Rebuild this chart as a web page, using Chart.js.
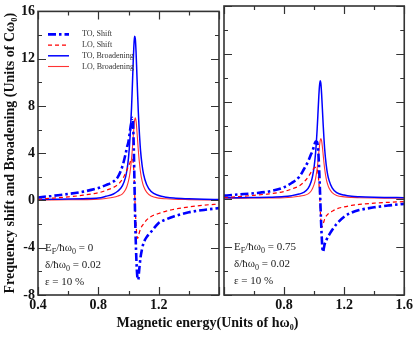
<!DOCTYPE html>
<html>
<head>
  <title>Frequency shift and broadening</title>
  <script src="https://cdn.jsdelivr.net/npm/chart.js"></script>
  <style>
    body { margin: 0; background: #fff; width: 415px; height: 337px; overflow: hidden; position: relative; font-family: "Liberation Serif", serif; color: #111; }
    .panel { position: absolute; top: 0; height: 337px; }
    #left-wrap { left: 0; width: 222px; }
    #right-wrap { left: 220px; width: 195px; }
    .note { position: absolute; font-size: 11px; line-height: 17px; color: #222; white-space: nowrap; }
    .note sub, #xtitle sub { font-size: 8px; vertical-align: -3px; line-height: 0; }
    #xtitle { position: absolute; top: 315px; left: 0; width: 415px; text-align: center; font-weight: bold; font-size: 14px; }
  </style>
</head>
<body>
  <div class="panel" id="left-wrap"><canvas id="leftChart"></canvas></div>
  <div class="panel" id="right-wrap"><canvas id="rightChart"></canvas></div>

  <div class="note" style="left:45px; top:239px;">
    E<sub>F</sub>/ħω<sub>0</sub> = 0<br>δ/ħω<sub>0</sub> = 0.02<br>ε = 10 %
  </div>
  <div class="note" style="left:234px; top:238px;">
    E<sub>F</sub>/ħω<sub>0</sub> = 0.75<br>δ/ħω<sub>0</sub> = 0.02<br>ε = 10 %
  </div>
  <div id="xtitle">Magnetic energy(Units of hω<sub>0</sub>)</div>

  <script>
    // magnetic energy grid (units of h w0), denser near the resonance
    const energy = [0.4, 0.5, 0.6, 0.7, 0.8, 0.85, 0.9, 0.93, 0.96, 0.98, 0.99, 1.0, 1.01, 1.02, 1.025, 1.03, 1.035, 1.04, 1.045,
      1.05, 1.055, 1.06, 1.065, 1.07, 1.08, 1.09, 1.1, 1.12, 1.15, 1.2, 1.25, 1.3, 1.4, 1.5, 1.6];

    // left panel, EF/hw0 = 0
    const toShiftA = [0.25, 0.4, 0.55, 0.75, 1.05, 1.3, 1.6, 2.0, 2.9, 3.9, 4.5, 5.0, 5.9, 6.7, 7.0, 6.5, 4.5, 1.2, -2.0,
      -4.2, -5.8, -6.6, -6.7, -6.0, -4.8, -4.1, -3.6, -3.1, -2.65, -1.9, -1.6, -1.35, -1.0, -0.8, -0.65];
    const loShiftA = [0.1, 0.2, 0.3, 0.45, 0.65, 0.85, 1.1, 1.35, 1.8, 2.3, 2.6, 2.9, 3.2, 3.5, 3.5, 3.3, 2.6, 1.0, -0.8,
      -2.0, -2.9, -3.2, -3.1, -2.8, -2.4, -2.15, -2.0, -1.65, -1.35, -1.1, -0.9, -0.75, -0.55, -0.4, -0.3];
    const toBroadA = [0.08, 0.1, 0.12, 0.15, 0.2, 0.35, 0.55, 0.8, 1.25, 1.95, 2.6, 3.6, 5.3, 7.8, 9.5, 11.3, 12.9, 13.9, 13.7,
      12.6, 10.9, 9.15, 7.5, 6.2, 4.2, 3.0, 2.2, 1.35, 0.75, 0.42, 0.28, 0.2, 0.14, 0.1, 0.08];
    const loBroadA = [0.04, 0.05, 0.06, 0.07, 0.1, 0.17, 0.27, 0.38, 0.56, 0.9, 1.2, 1.65, 2.36, 3.5, 4.27, 5.15, 6.03, 6.73, 7.0,
      6.73, 6.03, 5.15, 4.27, 3.5, 2.36, 1.65, 1.2, 0.7, 0.38, 0.2, 0.14, 0.1, 0.07, 0.05, 0.04];

    // right panel, EF/hw0 = 0.75
    const toShiftB = [0.25, 0.35, 0.45, 0.6, 0.95, 1.3, 1.8, 2.4, 3.1, 3.7, 4.0, 4.4, 4.75, 4.7, 4.3, 3.4, 2.0, 0.3, -1.5,
      -3.0, -4.1, -4.4, -4.1, -3.8, -3.5, -3.2, -3.0, -2.6, -2.1, -1.5, -1.15, -0.95, -0.72, -0.56, -0.43];
    const loShiftB = [0.1, 0.18, 0.28, 0.4, 0.6, 0.8, 1.05, 1.35, 1.8, 2.2, 2.4, 2.55, 2.6, 2.5, 2.2, 1.6, 0.7, -0.6, -1.9,
      -2.4, -2.3, -2.1, -1.9, -1.7, -1.45, -1.3, -1.2, -1.05, -0.85, -0.68, -0.56, -0.48, -0.37, -0.3, -0.25];
    const toBroadB = [0.08, 0.08, 0.1, 0.12, 0.17, 0.25, 0.38, 0.52, 0.85, 1.4, 1.9, 2.65, 3.85, 5.75, 6.95, 8.2, 9.25, 9.8, 9.55,
      8.65, 7.45, 6.2, 5.1, 4.15, 2.85, 2.0, 1.5, 0.9, 0.5, 0.3, 0.2, 0.16, 0.12, 0.1, 0.08];
    const loBroadB = [0.03, 0.04, 0.05, 0.06, 0.08, 0.12, 0.2, 0.27, 0.4, 0.64, 0.86, 1.18, 1.69, 2.5, 3.05, 3.68, 4.3, 4.8, 5.0,
      4.8, 4.3, 3.68, 3.05, 2.5, 1.69, 1.18, 0.86, 0.5, 0.27, 0.15, 0.1, 0.08, 0.05, 0.04, 0.03];

    const seriesNames = ["TO, Shift", "LO, Shift", "TO, Broadening", "LO, Broadening"];
    const xTicks = [0.4, 0.6, 0.8, 1.0, 1.2, 1.4, 1.6];
    const xLabelsLeft = ["0.4", "0.8", "1.2"];
    const xLabelsRight = ["0.8", "1.2", "1.6"];
    const yTicks = [-8, -6, -4, -2, 0, 2, 4, 6, 8, 10, 12, 14, 16];
    const yLabels = ["-8", "-4", "0", "4", "8", "12", "16"];

    const tickFont = { family: "Liberation Serif", size: 14, weight: "bold" };

    // frame + inward tick marks on all four sides
    const frameTicks = {
      id: "frameTicks",
      afterDatasetsDraw(chart) {
        const { ctx, chartArea: a, scales: { x, y } } = chart;
        ctx.save();
        ctx.strokeStyle = "#333";
        ctx.lineWidth = 1.2;
        ctx.beginPath();
        xTicks.forEach(v => {
          const px = Math.round(x.getPixelForValue(v)) + 0.5;
          const len = Math.abs(v / 0.4 - Math.round(v / 0.4)) < 1e-6 ? 8 : 4;
          ctx.moveTo(px, a.bottom); ctx.lineTo(px, a.bottom - len);
          ctx.moveTo(px, a.top); ctx.lineTo(px, a.top + len);
        });
        yTicks.forEach(v => {
          const py = Math.round(y.getPixelForValue(v)) + 0.5;
          const len = v % 4 === 0 ? 8 : 4;
          ctx.moveTo(a.left, py); ctx.lineTo(a.left + len, py);
          ctx.moveTo(a.right, py); ctx.lineTo(a.right - len, py);
        });
        ctx.stroke();
        ctx.lineWidth = 1.6;
        ctx.strokeRect(a.left, a.top, a.right - a.left, a.bottom - a.top);
        ctx.restore();
      }
    };

    // legend drawn inside the left plot
    const innerLegend = {
      id: "innerLegend",
      afterDraw(chart) {
        const { ctx, chartArea: a } = chart;
        ctx.save();
        ctx.font = "8px 'Liberation Serif'";
        ctx.textBaseline = "middle";
        chart.data.datasets.forEach((ds, i) => {
          const yy = a.top + 23 + i * 10.7;
          ctx.strokeStyle = ds.borderColor;
          ctx.lineWidth = ds.borderWidth;
          ctx.setLineDash(ds.borderDash || []);
          ctx.beginPath();
          ctx.moveTo(a.left + 10, yy);
          ctx.lineTo(a.left + 31, yy);
          ctx.stroke();
          ctx.setLineDash([]);
          ctx.fillStyle = "#333";
          ctx.fillText(ds.label, a.left + 44, yy);
        });
        ctx.restore();
      }
    };

    function makeSets(toS, loS, toB, loB) {
      const pts = arr => energy.map((e, i) => ({ x: e, y: arr[i] }));
      return [
        { label: seriesNames[0], data: pts(toS), borderColor: "#0000ff", borderWidth: 2.6, borderDash: [8, 3, 2.5, 3] },
        { label: seriesNames[1], data: pts(loS), borderColor: "#ff0000", borderWidth: 1.2, borderDash: [4, 3] },
        { label: seriesNames[2], data: pts(toB), borderColor: "#0000ff", borderWidth: 1.5 },
        { label: seriesNames[3], data: pts(loB), borderColor: "#ff3333", borderWidth: 1.1 }
      ].map(d => Object.assign(d, { pointRadius: 0, fill: false, cubicInterpolationMode: "monotone" }));
    }

    function makeChart(id, sets, isLeft) {
      const plugins = isLeft ? [frameTicks, innerLegend] : [frameTicks];
      return new Chart(document.getElementById(id), {
        type: "line",
        data: { datasets: sets },
        plugins: plugins,
        options: {
          responsive: true,
          maintainAspectRatio: false,
          animation: false,
          layout: { padding: { top: 6, right: isLeft ? 3 : 10, bottom: 0, left: 0 } },
          plugins: { legend: { display: false }, tooltip: { enabled: false } },
          scales: {
            x: {
              type: "linear", min: 0.4, max: 1.6,
              afterBuildTicks: s => { s.ticks = xTicks.map(v => ({ value: v })); },
              afterFit: s => { s.height = 42; },
              grid: { display: false, drawTicks: false },
              border: { display: false },
              ticks: {
                autoSkip: false, maxRotation: 0, padding: 2, color: "#111", font: tickFont,
                callback: v => {
                  const s = v.toFixed(1);
                  return (isLeft ? xLabelsLeft : xLabelsRight).includes(s) ? s : "";
                }
              }
            },
            y: {
              min: -8, max: 16,
              afterBuildTicks: s => { s.ticks = yTicks.map(v => ({ value: v })); },
              afterFit: s => { s.width = isLeft ? 38 : 4; },
              grid: { display: false, drawTicks: false },
              border: { display: false },
              title: {
                display: isLeft,
                text: "Frequency shift and Broadening (Units of Cω₀)",
                color: "#111",
                padding: { top: 2, bottom: 0 },
                font: { family: "Liberation Serif", size: 14, weight: "bold" }
              },
              ticks: {
                display: isLeft, autoSkip: false, padding: 3, color: "#111", font: tickFont,
                callback: v => yLabels.includes(String(v)) ? String(v) : ""
              }
            }
          }
        }
      });
    }

    makeChart("leftChart", makeSets(toShiftA, loShiftA, toBroadA, loBroadA), true);
    makeChart("rightChart", makeSets(toShiftB, loShiftB, toBroadB, loBroadB), false);
  </script>
</body>
</html>
